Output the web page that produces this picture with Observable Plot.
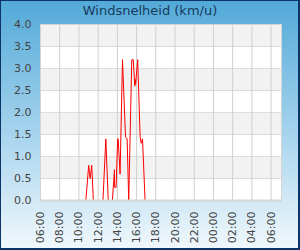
<!DOCTYPE html>
<html>
<head>
<meta charset="utf-8">
<script src="https://cdn.jsdelivr.net/npm/d3@7"></script>
<script src="https://cdn.jsdelivr.net/npm/@observablehq/plot@0.6"></script>
<style>
  html, body { margin: 0; padding: 0; }
  #card {
    position: relative; width: 300px; height: 250px; overflow: hidden;
    background: linear-gradient(to bottom, #52a9d8 0%, #a9d5ee 55%, #f1f8fc 100%);
    font-family: "DejaVu Sans", sans-serif;
  }
  #border {
    position: absolute; left: 0; top: 0; width: 300px; height: 250px; box-sizing: border-box;
    border-style: solid; border-color: #0b3566; border-width: 1px 2px 2px 1px; pointer-events: none;
  }
  #title {
    position: absolute; left: 0; top: 1px; width: 300px; text-align: center;
    font-size: 13px; color: #173b5e; line-height: 20px;
  }
  #chart { position: absolute; left: 0; top: 0; }
</style>
</head>
<body>
<div id="card">
  <div id="chart"></div>
  <div id="title">Windsnelheid (km/u)</div>
  <div id="border"></div>
</div>
<script>
const titleText = "Windsnelheid (km/u)";
const domainStart = "2024-01-01T06:00";
const domainEnd = "2024-01-02T07:05";
const xTickLabels = ["2024-01-01T06:00","2024-01-01T08:00","2024-01-01T10:00","2024-01-01T12:00","2024-01-01T14:00","2024-01-01T16:00","2024-01-01T18:00","2024-01-01T20:00","2024-01-01T22:00","2024-01-02T00:00","2024-01-02T02:00","2024-01-02T04:00","2024-01-02T06:00"];
const yTickValues = [0, 0.5, 1, 1.5, 2, 2.5, 3, 3.5, 4];
const greyBandStarts = [0.5, 1.5, 2.5, 3.5];

const times = ["10:43","11:01","11:10","11:20","11:30","12:30","12:48","13:03","13:29","13:42","13:43","13:52","14:02","14:05","14:17","14:32","14:51","15:01","15:11","15:30","15:39","15:49","15:51","15:54","16:07","16:22","16:29","16:37","16:53"];
const speeds = [0, 0.8, 0.5, 0.8, 0, 0, 1.4, 0, 0, 0.7, 0.3, 0.3, 1.4, 1.4, 0.6, 3.2, 1.45, 1.4, 0, 3.2, 3.2, 2.6, 2.75, 2.65, 3.2, 1.45, 1.3, 1.4, 0];

const parse = s => new Date(s + ":00Z");
const data = times.map((t, i) => ({t: parse("2024-01-01T" + t), v: speeds[i]}));
const xTicks = xTickLabels.map(parse);
const fmt = d3.utcFormat("%H:%M");

const chart = Plot.plot({
  width: 300, height: 250,
  marginLeft: 40, marginRight: 19, marginTop: 24, marginBottom: 50,
  style: {background: "transparent", fontFamily: "DejaVu Sans, sans-serif", fontSize: "11px", color: "#444"},
  x: {type: "utc", domain: [parse(domainStart), parse(domainEnd)]},
  y: {domain: [0, 4]},
  marks: [
    Plot.frame({fill: "white", stroke: null}),
    Plot.rect(greyBandStarts, {y1: d => d, y2: d => d + 0.5, fill: "#f2f2f2"}),
    Plot.gridY(yTickValues, {stroke: "#dcdcdc", strokeOpacity: 1}),
    Plot.gridX(xTicks, {stroke: "#cfcfcf", strokeOpacity: 1}),
    Plot.frame({stroke: "#d4d4d4"}),
    Plot.line(data, {x: "t", y: "v", stroke: "#ff0000", strokeWidth: 1}),
    Plot.ruleY([0], {stroke: "#d4d4d4", strokeWidth: 2}),
    Plot.axisY(yTickValues, {tickSize: 0, tickPadding: 9, tickFormat: d => d.toFixed(1), label: null}),
    Plot.axisX(xTicks, {tickSize: 0, tickPadding: 11, tickRotate: -90, tickFormat: fmt, label: null})
  ]
});
document.getElementById("chart").appendChild(chart);
</script>
</body>
</html>
